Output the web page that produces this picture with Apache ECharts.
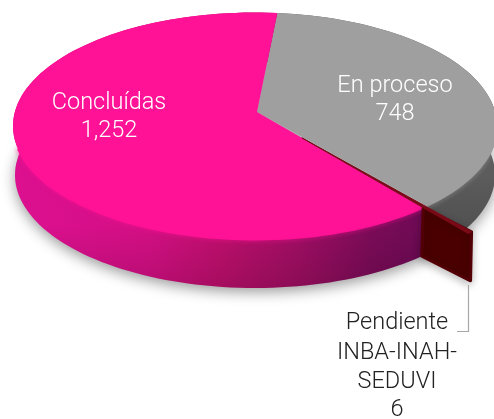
<!DOCTYPE html>
<html><head><meta charset="utf-8">
<style>html,body{margin:0;padding:0;background:#fff}#c{width:494px;height:419px}</style>
<script src="https://cdn.jsdelivr.net/npm/echarts@6/dist/echarts.min.js"></script>
</head><body><div id="c"></div>
<script>
const categories = ['En proceso', 'Pendiente', 'Concluídas'];
const values = [748, 6, 1252];
const pendienteLines = ['Pendiente', 'INBA-INAH-', 'SEDUVI'];
const sliceTop = ['#9f9f9f', '#7a0a18', '#ff1296'];
const labelFont = 'Roboto';

const TOP = {cx: 255, cy: 126, rx: 242, ry: 113.5};
const BOT = {cx: 255, cy: 175, rx: 240, ry: 113};
const APEX = [257, 112];
const START = 5.5, EXPLODE = 0.27, FMT = v => v.toLocaleString('en-US');
const total = values.reduce((a, b) => a + b, 0);
const rad = d => d * Math.PI / 180, deg = r => r * 180 / Math.PI;
const rim = (e, d) => [e.cx + e.rx * Math.sin(rad(d)), e.cy - e.ry * Math.cos(rad(d))];
const arc = (e, a, b, off) => { const p = []; const n = Math.max(2, Math.ceil(Math.abs(b - a) / 2));
  for (let i = 0; i <= n; i++) { const q = rim(e, a + (b - a) * i / n); p.push(off ? [q[0] + off[0], q[1] + off[1]] : q); } return p; };
// map a slice angle (seen from the off-centre apex) to the ellipse parameter
function phi(t) {
  const k = TOP.rx / TOP.ry, ax = APEX[0] - TOP.cx, ay = (APEX[1] - TOP.cy) * k;
  const dx = Math.sin(rad(t)), dy = -Math.cos(rad(t));
  const bb = ax * dx + ay * dy, c = ax * ax + ay * ay - TOP.rx * TOP.rx;
  const s = -bb + Math.sqrt(bb * bb - c);
  let f = deg(Math.atan2(ax + dx * s, -(ay + dy * s)));
  while (f < t - 90) f += 360;
  return f;
}
const grad = (x, y, x2, y2, stops) => ({type: 'linear', x, y, x2, y2, global: true, colorStops: stops.map(s => ({offset: s[0], color: s[1]}))});

function renderSlice(params, api) {
  const i = params.dataIndex, v = api.value(0);
  let before = 0; for (let j = 0; j < i; j++) before += values[j];
  const a = phi(START + before / total * 360), b = phi(START + (before + v) / total * 360);
  const ch = [];
  if (categories[i] === 'Pendiente') {
    const P = rim(TOP, b), Pb = rim(BOT, b);
    const off = [(P[0] - APEX[0]) * EXPLODE, (P[1] - APEX[1]) * EXPLODE];
    const R = rim(TOP, a), Q = [R[0] + off[0], R[1] + off[1]], h = 49;
    ch.push({type: 'polygon', z2: 5, shape: {points: [[P[0], P[1]], Q, [Q[0] - 1, Q[1] + h], [Pb[0], Pb[1]]]},
      style: {fill: '#4a0000', stroke: '#520006', lineWidth: 3, lineJoin: 'round', shadowBlur: 8, shadowColor: 'rgba(0,0,0,.25)', shadowOffsetY: 3}});
    ch.push({type: 'polygon', z2: 6, shape: {points: [[APEX[0] + off[0], APEX[1] + off[1]]].concat(arc(TOP, a, b, off))},
      style: {fill: sliceTop[i], stroke: sliceTop[i], lineWidth: 1, lineJoin: 'round'}});
  } else {
    const band = arc(TOP, a, b).concat(arc(BOT, b, a));
    const fill = i === 0 ? grad(0, 175, 0, 240, [[0, '#5c5c5c'], [1, '#4e4e4e']])
      : grad(0, 0, 494, 0, [[.03, '#dc1090'], [.3, '#d40f84'], [.445, '#c00f6e'], [.6, '#a20e64'], [.75, '#7c0b58'], [.86, '#6e0a55']]);
    ch.push({type: 'polygon', z2: 1, shape: {points: band}, style: {fill}});
    if (i === 2) ch.push({type: 'polygon', z2: 2, shape: {points: band},
      style: {fill: grad(0, 225, 0, 290, [[0, 'rgba(0,0,0,0)'], [1, 'rgba(0,0,0,.14)']])}});
    ch.push({type: 'polygon', z2: 3, shape: {points: [APEX].concat(arc(TOP, a, b))}, style: {fill: sliceTop[i]}});
    const lo = Math.max(a, 100), hi = Math.min(b, 258);
    if (hi > lo) ch.push({type: 'polyline', z2: 2.5, shape: {points: arc(TOP, lo, hi)},
      style: {fill: null, stroke: sliceTop[i], lineWidth: 2, lineCap: 'round', shadowBlur: 5, shadowColor: sliceTop[i]}});
  }
  return {type: 'group', children: ch};
}

const text = (x, y, s, fill) => ({type: 'text', x, y, z: 10, style: {text: s, fill, font: `300 23.5px ${labelFont}`, align: 'center', verticalAlign: 'middle'}});
const chart = echarts.init(document.getElementById('c'), null, {renderer: 'canvas'});
chart.setOption({
  animation: false,
  series: [{type: 'custom', coordinateSystem: 'none', z: 2, silent: true, renderItem: renderSlice,
    data: values.map((v, i) => ({name: categories[i], value: [v]}))}],
  graphic: [
    {type: 'ellipse', z: 0, shape: {cx: BOT.cx, cy: BOT.cy, rx: BOT.rx, ry: BOT.ry}, style: {fill: '#bbb', shadowBlur: 14, shadowColor: 'rgba(0,0,0,.4)', shadowOffsetY: 4}},
    {type: 'polyline', z: 10, shape: {points: [[468.5, 285], [468.5, 331.5], [457, 331.5]]}, style: {stroke: '#a8a8a8', lineWidth: 1.2, fill: null}},
    text(109, 103, categories[2], '#fff'), text(109, 131, FMT(values[2]), '#fff'),
    text(395, 86, categories[0], '#fff'), text(395, 114, FMT(values[0]), '#fff'),
    text(397, 323, pendienteLines[0], '#222'), text(397, 353, pendienteLines[1], '#222'), text(397, 382, pendienteLines[2], '#222'), text(397, 410, FMT(values[1]), '#222')
  ]
});
</script></body></html>
